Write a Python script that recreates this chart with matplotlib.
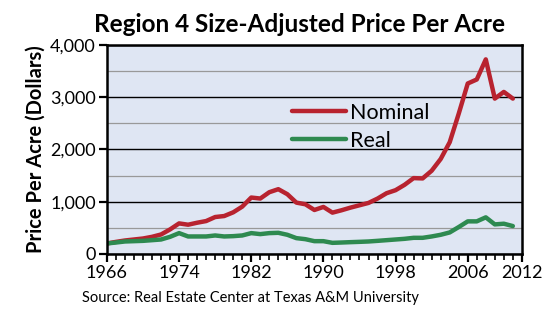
"""Region 4 size-adjusted price per acre chart."""
import matplotlib.pyplot as plt
from matplotlib.ticker import FuncFormatter, MultipleLocator

plt.rcParams["font.family"] = ["Lato", "DejaVu Sans"]

years = list(range(1966, 2012))
nominal = [200, 230, 257, 276, 295, 327, 372, 469, 584, 559,
           597, 629, 706, 725, 796, 905, 1079, 1060, 1181, 1239,
           1143, 982, 950, 841, 899, 790, 835, 886, 931, 976,
           1059, 1162, 1220, 1323, 1451, 1445, 1592, 1817, 2138, 2684,
           3262, 3339, 3724, 2973, 3101, 2973]
real = [200, 218, 238, 244, 250, 263, 276, 327, 398, 334,
        334, 334, 353, 334, 340, 353, 398, 379, 398, 404,
        366, 302, 282, 244, 244, 212, 218, 225, 231, 238,
        250, 263, 276, 289, 308, 308, 334, 366, 411, 514,
        623, 623, 700, 565, 578, 533]
x_labels = [1966, 1974, 1982, 1990, 1998, 2006, 2012]

fig = plt.figure(figsize=(5.54, 3.21), dpi=100)
ax = fig.add_axes([0.193, 0.209, 0.749, 0.651])
ax.set_facecolor("#dfe6f3")

ax.plot(years, nominal, color="#b8232f", lw=3.2, label="Nominal", solid_capstyle="round")
ax.plot(years, real, color="#2e8a50", lw=3.2, label="Real", solid_capstyle="round")

ax.set_xlim(1966, 2012)
ax.set_ylim(0, 4000)
ax.set_xticks(x_labels)
ax.xaxis.set_minor_locator(MultipleLocator(1))
ax.yaxis.set_major_locator(MultipleLocator(1000))
ax.yaxis.set_minor_locator(MultipleLocator(500))
ax.yaxis.set_major_formatter(FuncFormatter(lambda v, p: f"{int(v):,}"))

ax.grid(True, which="major", axis="y", color="black", lw=1.0)
ax.grid(True, which="minor", axis="y", color="#999999", lw=0.9)
ax.set_axisbelow(True)
ax.tick_params(axis="both", which="major", direction="out", length=6, width=1.6,
               labelsize=13, pad=2)
ax.tick_params(axis="x", which="minor", direction="out", length=4, width=1.2)
ax.tick_params(axis="y", which="minor", length=0)
for s in ax.spines.values():
    s.set_linewidth(1.8)

ax.set_ylabel("Price Per Acre (Dollars)", fontsize=14.5, fontweight="bold", labelpad=3)
ax.set_title("Region 4 Size-Adjusted Price Per Acre", fontsize=17.5, fontweight="bold",
             pad=9, x=0.465)

ax.legend(loc="upper left", bbox_to_anchor=(0.4, 0.815), frameon=False, fontsize=15.5,
          handlelength=2.5, handletextpad=0.2, labelspacing=0.35)

fig.text(0.148, 0.06, "Source: Real Estate Center at Texas A&M University", fontsize=10.5)

fig.savefig("out.png", dpi=100)
plt.close(fig)
